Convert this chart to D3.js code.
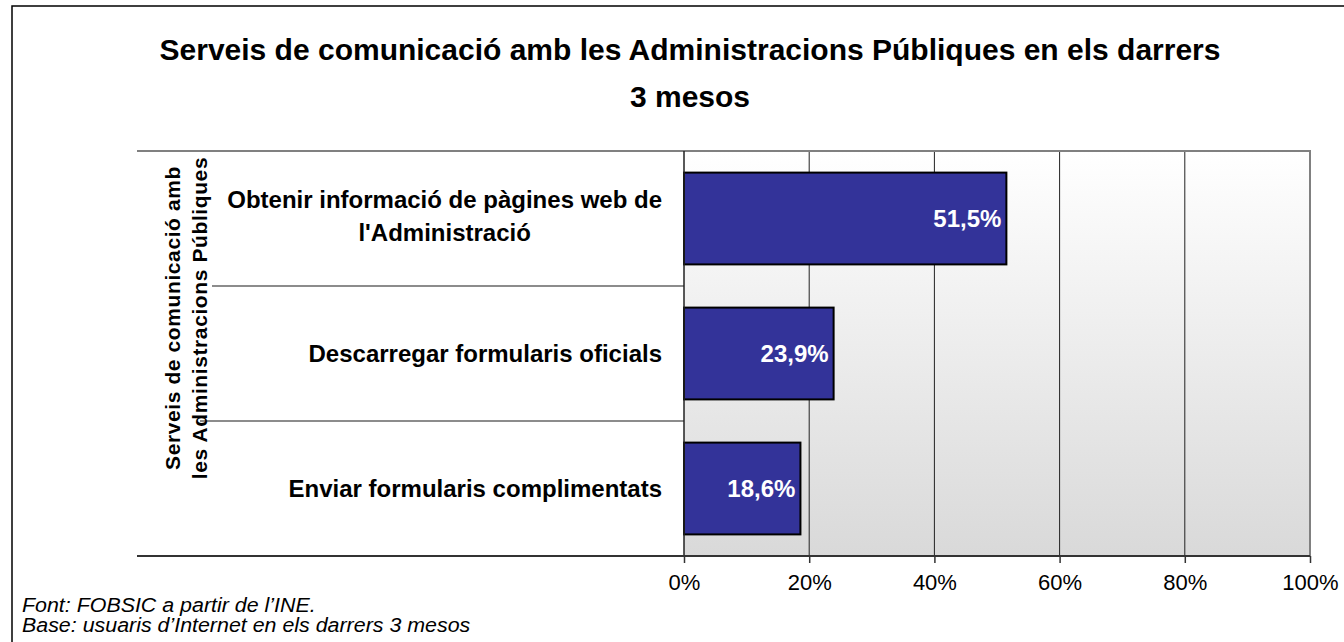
<!DOCTYPE html>
<html>
<head>
<meta charset="utf-8">
<script src="https://cdn.jsdelivr.net/npm/d3@7"></script>
<style>
  body { margin: 0; background: #fff; }
  .canvas { width: 1344px; height: 642px; }
</style>
</head>
<body>
<div class="canvas"></div>
<script>
const titleLines = ['Serveis de comunicació amb les Administracions Públiques en els darrers', '3 mesos'];
const axisTitleLines = ['Serveis de comunicació amb', 'les Administracions Públiques'];
const categories = ['Obtenir informació de pàgines web de l\'Administració', 'Descarregar formularis oficials', 'Enviar formularis complimentats'];
const categoryLines = [['Obtenir informació de pàgines web de', 'l\'Administració'], ['Descarregar formularis oficials'], ['Enviar formularis complimentats']];
const values = [51.5, 23.9, 18.6];
const xTicks = [0, 20, 40, 60, 80, 100];
const notes = ['Font: FOBSIC a partir de l\u2019INE.', 'Base: usuaris d\u2019Internet en els darrers 3 mesos'];

const SANS = "'Liberation Sans', Arial, sans-serif";

const svg = d3
  .select('.canvas')
  .append('svg')
  .attr('width', 1344)
  .attr('height', 642);

const grad = svg
  .append('defs')
  .append('linearGradient')
  .attr('id', 'plotBg')
  .attr('x1', 0)
  .attr('y1', 0)
  .attr('x2', 0)
  .attr('y2', 1);
grad.append('stop').attr('offset', '0%').attr('stop-color', '#ffffff');
grad.append('stop').attr('offset', '100%').attr('stop-color', '#d9d9d9');

// outer frame (right and bottom edge fall outside the picture)
svg
  .append('rect')
  .attr('x', 12)
  .attr('y', 6)
  .attr('width', 1400)
  .attr('height', 700)
  .attr('fill', 'none')
  .attr('stroke', '#000')
  .attr('stroke-width', 1.5);

const x = d3.scaleLinear().domain([0, 100]).range([684, 1310]);
const y = d3
  .scaleBand()
  .domain(categories)
  .range([151, 556])
  .paddingInner(0.32)
  .paddingOuter(0.16);

const [plotTop, plotBottom] = y.range();

// plot background
svg
  .append('rect')
  .attr('x', x(0))
  .attr('y', plotTop)
  .attr('width', x(100) - x(0))
  .attr('height', plotBottom - plotTop)
  .attr('fill', 'url(#plotBg)');

// vertical gridlines
svg
  .append('g')
  .selectAll('line')
  .data(xTicks.filter(d => d > 0 && d < 100))
  .join('line')
  .attr('x1', d => x(d))
  .attr('x2', d => x(d))
  .attr('y1', plotTop)
  .attr('y2', plotBottom)
  .attr('stroke', '#222')
  .attr('stroke-width', 1);

// plot frame: top and right
svg
  .append('path')
  .attr('d', `M137,${plotTop}H${x(100)}V${plotBottom}`)
  .attr('fill', 'none')
  .attr('stroke', '#808080')
  .attr('stroke-width', 2);

// category separators between groups
const seps = categories.slice(1).map(c => y(c) - (y.step() - y.bandwidth()) / 2);
svg
  .append('g')
  .selectAll('line')
  .data(seps)
  .join('line')
  .attr('x1', (d, i) => (i === 0 ? 212 : 200))
  .attr('x2', x(0))
  .attr('y1', d => d)
  .attr('y2', d => d)
  .attr('stroke', '#666')
  .attr('stroke-width', 1.5);

// bars
svg
  .append('g')
  .selectAll('rect')
  .data(values)
  .join('rect')
  .attr('x', x(0))
  .attr('y', (d, i) => y(categories[i]))
  .attr('width', d => x(d) - x(0))
  .attr('height', y.bandwidth())
  .attr('fill', '#333399')
  .attr('stroke', '#000')
  .attr('stroke-width', 2);

// value labels inside bar ends
svg
  .append('g')
  .selectAll('text')
  .data(values)
  .join('text')
  .attr('x', d => x(d) - 5)
  .attr('y', (d, i) => y(categories[i]) + y.bandwidth() / 2 + 8)
  .attr('text-anchor', 'end')
  .attr('font-family', SANS)
  .attr('font-weight', 'bold')
  .attr('font-size', 24)
  .attr('fill', '#fff')
  .text(d => d.toFixed(1).replace('.', ',') + '%');

// y axis line
svg
  .append('line')
  .attr('x1', x(0))
  .attr('x2', x(0))
  .attr('y1', plotTop)
  .attr('y2', plotBottom)
  .attr('stroke', '#222')
  .attr('stroke-width', 1.5);

// x axis
const xAxis = svg
  .append('g')
  .attr('transform', `translate(0,${plotBottom})`)
  .call(
    d3
      .axisBottom(x)
      .tickValues(xTicks)
      .tickFormat(d => d + '%')
      .tickSize(7)
      .tickPadding(27)
  );
xAxis.select('.domain').remove();
xAxis.selectAll('.tick line').attr('stroke', '#333').attr('stroke-width', 1.5);
xAxis
  .selectAll('.tick text')
  .attr('font-family', SANS)
  .attr('font-size', 22)
  .attr('fill', '#000')
  .attr('dy', null);
svg
  .append('line')
  .attr('x1', 137)
  .attr('x2', x(100))
  .attr('y1', plotBottom)
  .attr('y2', plotBottom)
  .attr('stroke', '#333')
  .attr('stroke-width', 2);

// category labels, lines centred on each other, block right-aligned
const labelRight = 662;
categoryLines.forEach((lines, i) => {
  const cy = y(categories[i]) + y.bandwidth() / 2;
  const lh = 33;
  const t = svg
    .append('g')
    .selectAll('text')
    .data(lines)
    .join('text')
    .attr('font-family', SANS)
    .attr('font-weight', 'bold')
    .attr('font-size', 24)
    .attr('fill', '#000')
    .attr('text-anchor', 'middle')
    .text(d => d);
  const widest = d3.max(t.nodes(), n => n.getComputedTextLength());
  t.attr('x', labelRight - widest / 2).attr('y', (d, j) => cy + 8 + (j - (lines.length - 1) / 2) * lh - (lines.length > 1 ? 2 : 0));
});

// axis title, rotated
svg
  .append('g')
  .selectAll('text')
  .data(axisTitleLines)
  .join('text')
  .attr('transform', (d, i) => `translate(${180 + i * 27},318) rotate(-90)`)
  .attr('text-anchor', 'middle')
  .attr('font-family', SANS)
  .attr('font-weight', 'bold')
  .attr('font-size', 21)
  .attr('letter-spacing', 0.6)
  .attr('fill', '#000')
  .text(d => d);

// title
svg
  .append('g')
  .selectAll('text')
  .data(titleLines)
  .join('text')
  .attr('x', 690)
  .attr('y', (d, i) => 60 + i * 47)
  .attr('text-anchor', 'middle')
  .attr('font-family', SANS)
  .attr('font-weight', 'bold')
  .attr('font-size', 30)
  .attr('fill', '#000')
  .text(d => d);

// source notes
svg
  .append('g')
  .selectAll('text')
  .data(notes)
  .join('text')
  .attr('transform', (d, i) => `translate(22,${612 + i * 20}) scale(1.07,1)`)
  .attr('font-family', SANS)
  .attr('font-style', 'italic')
  .attr('font-size', 20)
  .attr('fill', '#000')
  .text(d => d);
</script>
</body>
</html>
